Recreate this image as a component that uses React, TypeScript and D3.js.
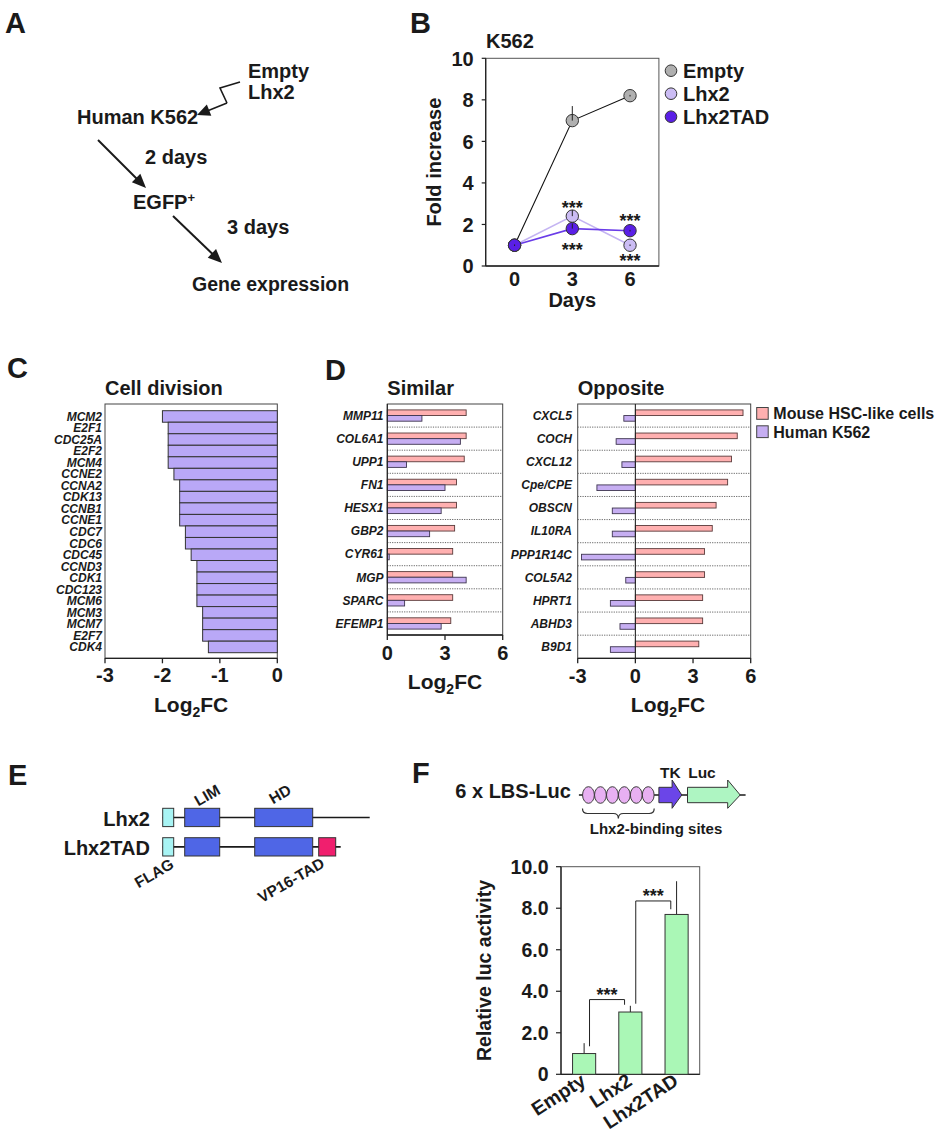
import React from 'react';
import * as d3 from 'd3';

const FONT = '"Liberation Sans", Arial, Helvetica, sans-serif';

// ---------------- Panel B data ----------------
const bDays = [0, 3, 6];
const bSeriesNames = ['Empty', 'Lhx2', 'Lhx2TAD'];
const bEmpty = [1.0, 7.0, 8.2];
const bEmptyErr = [0.0, 0.7, 0.0];
const bLhx2 = [1.0, 2.4, 1.0];
const bLhx2Err = [0.0, 0.3, 0.0];
const bLhx2TAD = [1.0, 1.8, 1.7];
const bLhx2TADErr = [0.0, 0.25, 0.0];
const bYTicks = [0, 2, 4, 6, 8, 10];
const bSigSeries = ['Lhx2', 'Lhx2TAD', 'Lhx2TAD', 'Lhx2'];
const bSigDays = [3, 3, 6, 6];
const bSigSide = ['above', 'below', 'above', 'below'];

// ---------------- Panel C data ----------------
const cGenes = ['MCM2', 'E2F1', 'CDC25A', 'E2F2', 'MCM4', 'CCNE2', 'CCNA2', 'CDK13', 'CCNB1', 'CCNE1', 'CDC7', 'CDC6', 'CDC45', 'CCND3', 'CDK1', 'CDC123', 'MCM6', 'MCM3', 'MCM7', 'E2F7', 'CDK4'];
const cValues = [-2.0, -1.9, -1.9, -1.9, -1.9, -1.8, -1.7, -1.7, -1.7, -1.7, -1.6, -1.6, -1.5, -1.4, -1.4, -1.4, -1.4, -1.3, -1.3, -1.3, -1.2];
const cTicks = [-3, -2, -1, 0];

// ---------------- Panel D data ----------------
const dSimilarGenes = ['MMP11', 'COL6A1', 'UPP1', 'FN1', 'HESX1', 'GBP2', 'CYR61', 'MGP', 'SPARC', 'EFEMP1'];
const dSimilarMouse = [4.1, 4.1, 4.0, 3.6, 3.6, 3.5, 3.4, 3.4, 3.4, 3.3];
const dSimilarK562 = [1.8, 3.8, 1.0, 3.0, 2.8, 2.2, 0.1, 4.1, 0.9, 2.8];
const dSimilarTicks = [0, 3, 6];
const dOppositeGenes = ['CXCL5', 'COCH', 'CXCL12', 'Cpe/CPE', 'OBSCN', 'IL10RA', 'PPP1R14C', 'COL5A2', 'HPRT1', 'ABHD3', 'B9D1'];
const dOppositeMouse = [5.6, 5.3, 5.0, 4.8, 4.2, 4.0, 3.6, 3.6, 3.5, 3.5, 3.3];
const dOppositeK562 = [-0.6, -1.0, -0.7, -2.0, -1.2, -1.2, -2.8, -0.5, -1.3, -0.8, -1.3];
const dOppositeTicks = [-3, 0, 3, 6];
const dLegend = ['Mouse HSC-like cells', 'Human K562'];

// ---------------- Panel E data (schematic units) ----------------
const eConstructs = ['Lhx2', 'Lhx2TAD'];
const eLengths = [207, 178];
const eDomainNames = ['FLAG', 'LIM', 'HD', 'VP16-TAD'];
const eDomainStart = [0, 22, 92, 156];
const eDomainEnd = [11, 57, 150, 173];
const eDomainIn = [[true, true, true, false], [true, true, true, true]];

// ---------------- Panel F data ----------------
const fGroups = ['Empty', 'Lhx2', 'Lhx2TAD'];
const fValues = [1.0, 3.0, 7.7];
const fErrors = [0.5, 0.3, 1.6];
const fTicks = [0, 2, 4, 6, 8, 10];
const fBracketFrom = ['Empty', 'Lhx2'];
const fBracketTo = ['Lhx2', 'Lhx2TAD'];
const fBracketTop = [3.6, 8.35];
const fBracketLeftBase = [1.35, 3.4];
const fBracketRightBase = [3.35, 7.95];
const fSites = [1, 2, 3, 4, 5, 6];

const INK = '#1a1a1a';

function ArrowLine({ x1, y1, x2, y2, w = 2, head = 14, half = 6 }: any) {
  const dx = x2 - x1, dy = y2 - y1;
  const L = Math.hypot(dx, dy);
  const ux = dx / L, uy = dy / L;
  const bx = x2 - ux * head, by = y2 - uy * head;
  const px = -uy, py = ux;
  return (
    <g>
      <line x1={x1} y1={y1} x2={x2 - ux * (head - 2)} y2={y2 - uy * (head - 2)} stroke={INK} strokeWidth={w} />
      <polygon points={`${x2},${y2} ${bx + px * half},${by + py * half} ${bx - px * half},${by - py * half}`} fill={INK} />
    </g>
  );
}

function PanelLetter({ x, y, t }: any) {
  return <text x={x} y={y} fontSize={29} fontWeight="bold">{t}</text>;
}

function LogFC({ cx, y }: any) {
  return (
    <text x={cx} y={y} textAnchor="middle" fontSize={21}>
      Log<tspan fontSize={14} dy={5}>2</tspan><tspan dy={-5}>FC</tspan>
    </text>
  );
}

function PanelA() {
  const zig = [[240, 82], [220, 88], [227, 103]];
  return (
    <g>
      <PanelLetter x={5} y={33} t="A" />
      <text x={248} y={78} fontSize={20}>Empty</text>
      <text x={248} y={99} fontSize={20}>Lhx2</text>
      <polyline points={zig.map(p => p.join(',')).join(' ')} fill="none" stroke={INK} strokeWidth={1.6} />
      <ArrowLine x1={227} y1={103} x2={197} y2={115} w={1.6} head={13} half={6} />
      <text x={77} y={124} fontSize={20}>Human K562</text>
      <ArrowLine x1={98} y1={140} x2={146} y2={188} />
      <text x={145} y={164} fontSize={20}>2 days</text>
      <text x={133} y={209} fontSize={20}>EGFP<tspan fontSize={13} dy={-7}>+</tspan></text>
      <ArrowLine x1={173} y1={216} x2={222} y2={263} />
      <text x={227} y={234} fontSize={20}>3 days</text>
      <text x={192} y={291} fontSize={19.5}>Gene expression</text>
    </g>
  );
}

function PanelB() {
  const x = d3.scaleLinear().domain([-1.5, 7.5]).range([485.7, 658.9]);
  const y = d3.scaleLinear().domain([0, 10]).range([266, 58.3]);
  const vals: Record<string, number[]> = { Empty: bEmpty, Lhx2: bLhx2, Lhx2TAD: bLhx2TAD };
  const errs: Record<string, number[]> = { Empty: bEmptyErr, Lhx2: bLhx2Err, Lhx2TAD: bLhx2TADErr };
  const fill: Record<string, string> = { Empty: '#b0b0b0', Lhx2: '#cbbcf4', Lhx2TAD: '#5a1fe6' };
  const lineCol: Record<string, string> = { Empty: '#111', Lhx2: '#c4b4f2', Lhx2TAD: '#6a3ce8' };
  const lineW: Record<string, number> = { Empty: 1.1, Lhx2: 1.6, Lhx2TAD: 1.6 };
  const sigOffset = [-12, 17, -14, 11.5];
  const line = d3.line<number>().x((_, i) => x(bDays[i])).y(d => y(d));
  const [x0, x1] = x.range();
  const [yb, yt] = y.range();
  return (
    <g>
      <PanelLetter x={410} y={33} t="B" />
      <text x={486} y={48} fontSize={20}>K562</text>
      <rect x={x0} y={yt} width={x1 - x0} height={yb - yt} fill="none" stroke="#555" strokeWidth={1} />
      <line x1={x0} y1={yt} x2={x0} y2={yb} stroke="#222" strokeWidth={1.3} />
      <line x1={x0} y1={yb} x2={x1} y2={yb} stroke="#222" strokeWidth={1.3} />
      {bYTicks.map(t => (
        <g key={t}>
          <line x1={x0 - 4} x2={x0} y1={y(t)} y2={y(t)} stroke="#222" strokeWidth={1.2} />
          <text x={x0 - 12} y={y(t)} dy="0.36em" textAnchor="end" fontSize={20}>{t}</text>
        </g>
      ))}
      {bDays.map(d => (
        <text key={d} x={x(d)} y={286} textAnchor="middle" fontSize={20}>{d}</text>
      ))}
      <text x={x(3)} y={307} textAnchor="middle" fontSize={20}>Days</text>
      <text transform={`translate(441,${(yb + yt) / 2}) rotate(-90)`} textAnchor="middle" fontSize={20}>Fold increase</text>
      {bSeriesNames.map(s => (
        <path key={s} d={line(vals[s]) || ''} fill="none" stroke={lineCol[s]} strokeWidth={lineW[s]} />
      ))}
      {bSeriesNames.map(s => (
        <g key={s + 'pts'}>
          {vals[s].map((v, i) => (
            <g key={i}>
              <circle cx={x(bDays[i])} cy={y(v)} r={6.2} fill={fill[s]} stroke="#333" strokeWidth={1} />
              <line x1={x(bDays[i])} x2={x(bDays[i])} y1={y(v) + (errs[s][i] > 0 ? 0 : 0.8)} y2={y(v + errs[s][i]) - (errs[s][i] > 0 ? 0 : 0.8)} stroke="#222" strokeWidth={1} />
            </g>
          ))}
        </g>
      ))}
      {bSigSeries.map((s, k) => {
        const i = bDays.indexOf(bSigDays[k]);
        const cy = y(vals[s][i]) + sigOffset[k];
        return <text key={k} x={x(bSigDays[k])} y={cy + 10} textAnchor="middle" fontSize={18}>***</text>;
      })}
      {bSeriesNames.map((s, i) => (
        <g key={s + 'leg'}>
          <circle cx={671} cy={70.7 + i * 23} r={5.8} fill={fill[s]} stroke="#333" strokeWidth={1} />
          <text x={683} y={70.7 + i * 23 + 7} fontSize={20}>{s}</text>
        </g>
      ))}
    </g>
  );
}

function PanelC() {
  const x = d3.scaleLinear().domain([-3, 0]).range([105, 277.3]);
  const y = d3.scaleBand<string>().domain(cGenes).range([410.7, 652.7]).padding(0);
  const top = 404, bottom = 658.3;
  return (
    <g>
      <PanelLetter x={7} y={378} t="C" />
      <text x={105} y={394.5} fontSize={20}>Cell division</text>
      <rect x={x(-3)} y={top} width={x(0) - x(-3)} height={bottom - top} fill="none" stroke="#444" strokeWidth={1} />
      {cGenes.map((g, i) => (
        <g key={g}>
          <rect x={x(cValues[i])} y={y(g)!} width={x(0) - x(cValues[i])} height={y.bandwidth()} fill="#b9a8f7" stroke="#333" strokeWidth={1} />
          <text x={102} y={(y(g)! + y.bandwidth() / 2)} dy="0.36em" textAnchor="end" fontSize={12} fontStyle="italic">{g}</text>
        </g>
      ))}
      <line x1={x(-3)} x2={x(0)} y1={bottom} y2={bottom} stroke="#222" strokeWidth={1.3} />
      {cTicks.map(t => (
        <g key={t}>
          <line x1={x(t)} x2={x(t)} y1={bottom} y2={bottom + 5} stroke="#222" strokeWidth={1.3} />
          <text x={x(t)} y={bottom + 23.5} textAnchor="middle" fontSize={20}>{t}</text>
        </g>
      ))}
      <LogFC cx={(x(-3) + x(0)) / 2} y={711.5} />
    </g>
  );
}

function DChart({ genes, mouse, k562, domain, range, ticks, top, bottom, labelX, title, fcCx }: any) {
  const x = d3.scaleLinear().domain(domain).range(range);
  const y = d3.scaleBand<string>().domain(genes).range([top, bottom]).padding(0);
  const sub = d3.scaleBand<string>().domain(['mouse', 'k562']).range([0, y.bandwidth()]).paddingInner(0).paddingOuter(1.05);
  const z = x(0);
  return (
    <g>
      <text x={range[0]} y={394.5} fontSize={20}>{title}</text>
      <rect x={range[0]} y={top} width={range[1] - range[0]} height={bottom - top} fill="none" stroke="#444" strokeWidth={1} />
      {genes.map((g: string, i: number) => (
        i > 0 ? <line key={'sep' + g} x1={range[0]} x2={range[1]} y1={y(g)!} y2={y(g)!} stroke="#666" strokeWidth={1} strokeDasharray="1.2,1.2" /> : null
      ))}
      {genes.map((g: string, i: number) => {
        const b = y(g)!;
        return (
          <g key={g}>
            <rect x={Math.min(z, x(mouse[i]))} y={b + sub('mouse')!} width={Math.abs(x(mouse[i]) - z)} height={sub.bandwidth()} fill="#ffb0b0" stroke="#5a3a3a" strokeWidth={0.9} />
            <rect x={Math.min(z, x(k562[i]))} y={b + sub('k562')!} width={Math.abs(x(k562[i]) - z)} height={sub.bandwidth()} fill="#c6aef2" stroke="#3e3550" strokeWidth={0.9} />
            <text x={labelX} y={b + y.bandwidth() / 2} dy="0.36em" textAnchor="end" fontSize={12} fontStyle="italic">{g}</text>
          </g>
        );
      })}
      <line x1={z} x2={z} y1={top} y2={bottom} stroke="#222" strokeWidth={1.1} />
      <line x1={range[0]} x2={range[1]} y1={bottom} y2={bottom} stroke="#222" strokeWidth={1.3} />
      {ticks.map((t: number) => (
        <g key={t}>
          <line x1={x(t)} x2={x(t)} y1={bottom} y2={bottom + 5} stroke="#222" strokeWidth={1.3} />
          <text x={x(t)} y={bottom + 25} textAnchor="middle" fontSize={20}>{t}</text>
        </g>
      ))}
      <LogFC cx={fcCx} y={bottom + 53.5} />
    </g>
  );
}

function PanelD() {
  return (
    <g>
      <PanelLetter x={325} y={380} t="D" />
      <DChart genes={dSimilarGenes} mouse={dSimilarMouse} k562={dSimilarK562} domain={[0, 6]} range={[387.3, 502.7]} ticks={dSimilarTicks} top={404} bottom={635} labelX={383.5} title="Similar" fcCx={445} />
      <DChart genes={dOppositeGenes} mouse={dOppositeMouse} k562={dOppositeK562} domain={[-3, 6]} range={[577.7, 750.7]} ticks={dOppositeTicks} top={404} bottom={658.3} labelX={572} title="Opposite" fcCx={668} />
      {dLegend.map((l, i) => (
        <g key={l}>
          <rect x={756.7} y={407.5 + i * 18.3} width={11.5} height={11.8} fill={i === 0 ? '#ffb0b0' : '#c6aef2'} stroke="#444" strokeWidth={1} />
          <text x={773.3} y={419.3 + i * 18.3} fontSize={16}>{l}</text>
        </g>
      ))}
    </g>
  );
}

function PanelE() {
  const x = d3.scaleLinear().domain([0, 207]).range([162.7, 369.7]);
  const rowTop = [808.3, 837.7];
  const h = 18.3;
  const domColor: Record<string, string> = { FLAG: '#a8f4f4', LIM: '#4f66e6', HD: '#4f66e6', 'VP16-TAD': '#f01f6e' };
  const labelPos: Record<string, [number, number]> = { FLAG: [154, 873], LIM: [207, 795], HD: [280, 794], 'VP16-TAD': [291, 880] };
  return (
    <g>
      <PanelLetter x={8} y={785} t="E" />
      {eConstructs.map((c, r) => (
        <g key={c}>
          <text x={150} y={rowTop[r] + 17.5} textAnchor="end" fontSize={20}>{c}</text>
          <line x1={x(0)} x2={x(eLengths[r])} y1={rowTop[r] + h / 2} y2={rowTop[r] + h / 2} stroke={INK} strokeWidth={1.6} />
          {eDomainNames.map((d, k) => eDomainIn[r][k] ? (
            <rect key={d} x={x(eDomainStart[k])} y={rowTop[r]} width={x(eDomainEnd[k]) - x(eDomainStart[k])} height={h} fill={domColor[d]} stroke="#333" strokeWidth={1} />
          ) : null)}
        </g>
      ))}
      {eDomainNames.map(d => (
        <text key={d + 'l'} transform={`translate(${labelPos[d][0]},${labelPos[d][1]}) rotate(-30)`} textAnchor="middle" dy="0.36em" fontSize={15.5}>{d}</text>
      ))}
    </g>
  );
}

function PanelF() {
  // schematic
  const sx = d3.scaleLinear().domain([0.5, 6.5]).range([582.5, 654.2]);
  const cy = 795;
  const braceL = sx(0.5), braceR = sx(6.5), mid = (braceL + braceR) / 2, by = 808.5;
  const brace = `M${braceL},${by} Q${braceL},${by + 5} ${braceL + 5},${by + 5} L${mid - 5},${by + 5} Q${mid},${by + 5} ${mid},${by + 10} Q${mid},${by + 5} ${mid + 5},${by + 5} L${braceR - 5},${by + 5} Q${braceR},${by + 5} ${braceR},${by}`;
  const arrow = (a: number, hs: number, b: number) =>
    `${a},${cy - 7.7} ${hs},${cy - 7.7} ${hs},${cy - 15} ${b},${cy} ${hs},${cy + 13.3} ${hs},${cy + 7.7} ${a},${cy + 7.7}`;

  // bar chart
  const x = d3.scaleBand<string>().domain(fGroups).range([561, 699.7]).paddingInner(0.5).paddingOuter(0.25);
  const y = d3.scaleLinear().domain([0, 10]).range([1074.3, 866.7]);
  const [x0, x1] = x.range();
  const [yb, yt] = y.range();
  const cx = (g: string) => x(g)! + x.bandwidth() / 2;
  return (
    <g>
      <PanelLetter x={412} y={783} t="F" />
      <text x={455.3} y={798} fontSize={20}>6 x LBS-Luc</text>
      <line x1={578.9} x2={745.6} y1={cy} y2={cy} stroke={INK} strokeWidth={1.3} />
      {fSites.map(s => (
        <ellipse key={s} cx={sx(s)} cy={cy} rx={5.9} ry={8.3} fill="#e8b0f2" stroke="#3a3a3a" strokeWidth={1} />
      ))}
      <polygon points={arrow(658.9, 672.1, 681.8)} fill="#6b45e8" stroke="#333" strokeWidth={1} />
      <polygon points={arrow(687.5, 727.7, 740.2)} fill="#aef5c2" stroke="#333" strokeWidth={1} />
      <text x={670.3} y={778} textAnchor="middle" fontSize={15.5}>TK</text>
      <text x={688.2} y={778} fontSize={15.5}>Luc</text>
      <path d={brace} fill="none" stroke="#333" strokeWidth={1.2} />
      <text x={656} y={834} textAnchor="middle" fontSize={15}>Lhx2-binding sites</text>

      <rect x={x0} y={yt} width={x1 - x0} height={yb - yt} fill="none" stroke="#555" strokeWidth={1} />
      <line x1={x0} y1={yt} x2={x0} y2={yb} stroke="#222" strokeWidth={1.3} />
      <line x1={x0} y1={yb} x2={x1} y2={yb} stroke="#222" strokeWidth={1.3} />
      {fTicks.map(t => (
        <g key={t}>
          <line x1={x0 - 5} x2={x0} y1={y(t)} y2={y(t)} stroke="#222" strokeWidth={1.2} />
          <text x={548.5} y={y(t)} dy="0.36em" textAnchor="end" fontSize={19.5}>{t === 0 ? '0' : t.toFixed(1)}</text>
        </g>
      ))}
      {fGroups.map((g, i) => (
        <g key={g}>
          <line x1={cx(g)} x2={cx(g)} y1={y(fValues[i])} y2={y(fValues[i] + fErrors[i])} stroke="#222" strokeWidth={1} />
          <rect x={x(g)!} y={y(fValues[i])} width={x.bandwidth()} height={yb - y(fValues[i])} fill="#aaf7b6" stroke="#333" strokeWidth={1} />
          <text transform={`translate(${cx(g) + 3},${1084}) rotate(-33)`} textAnchor="end" fontSize={19.5}>{g}</text>
        </g>
      ))}
      {fBracketFrom.map((f, k) => {
        const lx = cx(f) + 5.4, rx = cx(fBracketTo[k]) - 5.8;
        const ty = y(fBracketTop[k]);
        return (
          <g key={k}>
            <polyline points={`${lx},${y(fBracketLeftBase[k])} ${lx},${ty} ${rx},${ty} ${rx},${y(fBracketRightBase[k])}`} fill="none" stroke="#222" strokeWidth={1} />
            <text x={(lx + rx) / 2} y={ty + 1.5} textAnchor="middle" fontSize={18}>***</text>
          </g>
        );
      })}
      <text transform={`translate(490.8,${(yb + yt) / 2}) rotate(-90)`} textAnchor="middle" fontSize={19.5}>Relative luc activity</text>
    </g>
  );
}

export default function App() {
  return (
    <div style={{ position: 'absolute', left: 0, top: 0 }}>
      <svg width={941} height={1137} viewBox="0 0 941 1137" style={{ display: 'block', background: '#fff' }} fontFamily={FONT} fontWeight="bold" fill={INK}>
        <PanelA />
        <PanelB />
        <PanelC />
        <PanelD />
        <PanelE />
        <PanelF />
      </svg>
    </div>
  );
}
